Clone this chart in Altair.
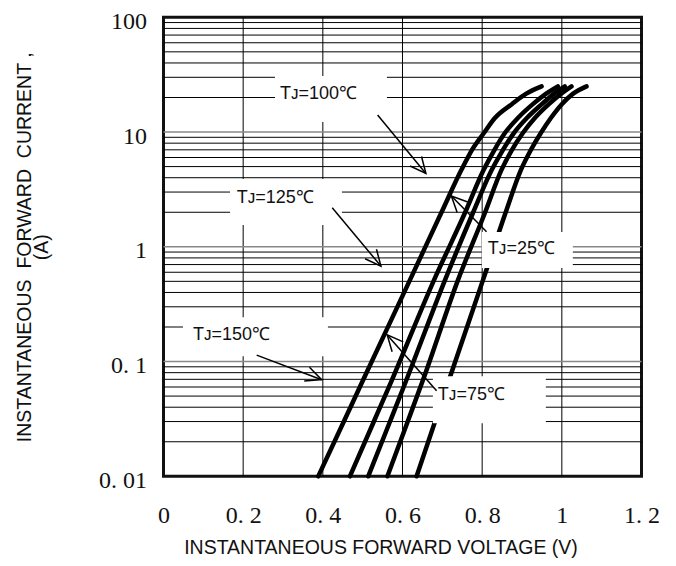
import altair as alt
import pandas as pd

# ---------------- axis ticks and labels ----------------
X_TICKS = [0.0, 0.2, 0.4, 0.6, 0.8, 1.0, 1.2]
X_LABELS = ["0", "0. 2", "0. 4", "0. 6", "0. 8", "1", "1. 2"]
Y_TICKS = [0.01, 0.1, 1, 10, 100]
Y_LABELS = ["0. 01", "0. 1", "1", "10", "100"]

# ---------------- grid ----------------
V_GRID = [0.2, 0.4, 0.6, 0.8, 1.0]
I_GRID_MINOR = [0.02, 0.03, 0.04, 0.05, 0.06, 0.07, 0.08, 0.09,
                0.2, 0.3, 0.4, 0.5, 0.6, 0.7, 0.8, 0.9,
                2, 3, 4, 5, 6, 7, 8, 9,
                20, 30, 40, 50, 60, 70, 80, 90]
I_GRID_DECADE = [0.1, 1, 10]

# ---------------- curves (current in A, voltage in V) ----------------
CURRENT = [0.01, 0.029, 0.069, 0.51, 1.97, 4.66, 6.97, 9.8, 13.25, 17.5, 21.5, 25.0]
V_150C = [0.3885, 0.4507, 0.5011, 0.6183, 0.6971, 0.7476, 0.7742, 0.8043, 0.8319, 0.8745, 0.9097, 0.9491]
V_125C = [0.4680, 0.5262, 0.5734, 0.6788, 0.7566, 0.8035, 0.8306, 0.8570, 0.8896, 0.9272, 0.9598, 0.9900]
V_100C = [0.5139, 0.5669, 0.6098, 0.7064, 0.7767, 0.8238, 0.8519, 0.8795, 0.9122, 0.9498, 0.9799, 1.0075]
V_75C = [0.5621, 0.6115, 0.6514, 0.7390, 0.8068, 0.8482, 0.8745, 0.9021, 0.9322, 0.9674, 0.9975, 1.0243]
V_25C = [0.6354, 0.6803, 0.7167, 0.8018, 0.8585, 0.8971, 0.9222, 0.9473, 0.9724, 1.0000, 1.0276, 1.0620]
SERIES = ["150", "125", "100", "75", "25"]
SERIES_V = [V_150C, V_125C, V_100C, V_75C, V_25C]

# ---------------- annotations ----------------
LABELS = ["T\u1d0a=100\u2103", "T\u1d0a=125\u2103", "T\u1d0a=150\u2103", "T\u1d0a=75\u2103", "T\u1d0a=25\u2103"]
LABEL_V = [0.2924, 0.1837, 0.0740, 0.6888, 0.8143]
LABEL_I = [21.45, 2.685, 0.1699, 0.05095, 0.9645]
BOX_V1 = [0.2798, 0.1669, 0.0489, 0.6763, 0.7992]
BOX_V2 = [0.5609, 0.4479, 0.4128, 0.9598, 1.0276]
BOX_I1 = [30.77, 3.894, 0.2438, 0.07459, 1.343]
BOX_I2 = [12.23, 1.546, 0.1114, 0.02903, 0.652]
ARROW_V_FROM = [0.5375, 0.4236, 0.2339, 0.6856, 0.8110]
ARROW_I_FROM = [14.07, 2.19, 0.1138, 0.0556, 1.352]
ARROW_V_TO = [0.6587, 0.5458, 0.3970, 0.5616, 0.7227]
ARROW_I_TO = [4.36, 0.679, 0.0695, 0.1706, 2.77]
ARROW_ANGLE = [50.4, 50.1, 20.6, 228.5, 225.4]

Y_TITLE = ["INSTANTANEOUS\u00a0 FORWARD\u00a0 CURRENT ,", "(A)"]
X_TITLE = "INSTANTANEOUS FORWARD VOLTAGE (V)"

# ---------------- build tables ----------------
curves = pd.DataFrame(
    [{"t": s, "v": v, "i": i} for s, vs in zip(SERIES, SERIES_V) for v, i in zip(vs, CURRENT)]
)
grid_v = pd.DataFrame({"v": V_GRID})
grid_minor = pd.DataFrame({"i": I_GRID_MINOR})
grid_decade = pd.DataFrame({"i": I_GRID_DECADE})
labels = pd.DataFrame({"txt": LABELS, "v": LABEL_V, "i": LABEL_I})
boxes = pd.DataFrame({"v": BOX_V1, "v2": BOX_V2, "i": BOX_I1, "i2": BOX_I2})
arrows = pd.DataFrame({"v": ARROW_V_FROM, "i": ARROW_I_FROM, "v2": ARROW_V_TO,
                       "i2": ARROW_I_TO, "ang": ARROW_ANGLE})
heads = pd.DataFrame({"v": ARROW_V_TO, "i": ARROW_I_TO, "ang": ARROW_ANGLE})


def label_expr(ticks, texts, log=False):
    expr = "'" + texts[-1] + "'"
    for k in range(len(ticks) - 2, -1, -1):
        if log:
            mid = (ticks[k] * ticks[k + 1]) ** 0.5
        else:
            mid = (ticks[k] + ticks[k + 1]) / 2
        expr = f"datum.value < {mid} ? '{texts[k]}' : ({expr})"
    return expr


x_axis = alt.Axis(
    values=X_TICKS, labelExpr=label_expr(X_TICKS, X_LABELS), grid=False, ticks=False,
    domain=False, labelFont="Liberation Serif", labelFontSize=24, labelColor="#111",
    labelPadding=27, labelFlush=False, labelOverlap=False,
    title=X_TITLE, titleFont="Liberation Sans", titleX=217,
    titleFontSize=19.5, titleFontWeight="normal", titleColor="#111", titlePadding=11,
)
y_axis = alt.Axis(
    values=Y_TICKS, labelExpr=label_expr(Y_TICKS, Y_LABELS, log=True), grid=False,
    ticks=False, domain=False, labelFont="Liberation Serif", labelFontSize=24,
    labelColor="#111", labelPadding=17, labelFlush=False, labelOverlap=False,
    labelOffset=4,
    title=Y_TITLE, titleFont="Liberation Sans",
    titleFontSize=19.5, titleFontWeight="normal", titleColor="#111", titlePadding=47,
    titleLineHeight=17,
)
xscale = alt.Scale(domain=[0, 1.2], nice=False, zero=False)
yscale = alt.Scale(type="log", domain=[0.01, 100], nice=False)
X = alt.X("v:Q", scale=xscale, axis=x_axis)
Y = alt.Y("i:Q", scale=yscale, axis=y_axis)

l_grid_v = alt.Chart(grid_v).mark_rule(color="#000", strokeWidth=1).encode(x=X)
l_grid_minor = alt.Chart(grid_minor).mark_rule(color="#000", strokeWidth=1).encode(y=Y)
l_grid_decade = alt.Chart(grid_decade).mark_rule(color="#888", strokeWidth=1.6).encode(y=Y)
l_curves = alt.Chart(curves).mark_line(
    color="#000", strokeWidth=4.5, strokeCap="round", interpolate="monotone"
).encode(x=X, y=Y, detail="t:N")
l_boxes = alt.Chart(boxes).mark_rect(color="white").encode(
    x=X, x2=alt.X2("v2:Q"), y=Y, y2=alt.Y2("i2:Q"))
l_text = alt.Chart(labels).mark_text(
    align="left", baseline="middle", font="Liberation Sans", fontSize=18, color="#111"
).encode(x=X, y=Y, text="txt:N")
l_shaft = alt.Chart(arrows).mark_rule(color="#000", strokeWidth=1.5).encode(
    x=X, y=Y, x2=alt.X2("v2:Q"), y2=alt.Y2("i2:Q"))
l_head = alt.Chart(heads).mark_point(
    shape="M-1,-0.47L0,0L-1,0.47", filled=False, stroke="#000", strokeWidth=1.5,
    size=1000, opacity=1
).encode(x=X, y=Y, angle=alt.Angle("ang:Q", scale=None))

chart = alt.layer(
    l_grid_v, l_grid_minor, l_grid_decade, l_curves, l_boxes, l_text, l_shaft, l_head
).properties(
    width=478, height=459,
    autosize=alt.AutoSizeParams(type="none"),
    padding={"left": 155.5, "top": 9.3, "right": 26, "bottom": 82},
    background="white",
).configure_view(stroke="#111", strokeWidth=3)

chart.save("out.html", embed_options={"renderer": "svg", "actions": False})
